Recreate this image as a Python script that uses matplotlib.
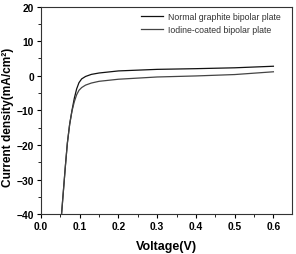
import matplotlib
matplotlib.use("Agg")
import matplotlib.pyplot as plt
from matplotlib.ticker import MultipleLocator

plt.rcParams['font.family'] = ['Liberation Sans', 'DejaVu Sans']

V_normal = [0.053, 0.058, 0.063, 0.068, 0.074, 0.080, 0.086, 0.092, 0.098, 0.105, 0.115, 0.13, 0.15, 0.2, 0.3, 0.4, 0.5, 0.6]
J_normal = [-40, -33, -26, -19.5, -14, -10, -6.5, -3.8, -2.0, -0.9, -0.2, 0.4, 0.8, 1.4, 1.85, 2.05, 2.3, 2.75]
V_iodine = [0.053, 0.058, 0.063, 0.068, 0.074, 0.080, 0.086, 0.092, 0.098, 0.105, 0.115, 0.13, 0.15, 0.2, 0.3, 0.4, 0.5, 0.6]
J_iodine = [-40, -33, -26, -19.5, -14, -10.2, -7.5, -5.5, -4.2, -3.4, -2.7, -2.1, -1.6, -1.0, -0.35, -0.05, 0.35, 1.15]
labels = ["Normal graphite bipolar plate", "Iodine-coated bipolar plate"]

fig = plt.figure(figsize=(2.96, 2.55), dpi=100)
ax = fig.add_axes([41/296, 1-215.3/255, (292-41)/296, (215.3-7.5)/255])
ax.plot(V_normal, J_normal, color='#111111', lw=0.9, label=labels[0])
ax.plot(V_iodine, J_iodine, color='#444444', lw=0.9, label=labels[1])
ax.set_xlim(0, 0.648)
ax.set_ylim(-40, 20)
ax.xaxis.set_major_locator(MultipleLocator(0.1))
ax.xaxis.set_minor_locator(MultipleLocator(0.05))
ax.yaxis.set_major_locator(MultipleLocator(10))
ax.yaxis.set_minor_locator(MultipleLocator(5))
ax.tick_params(which='major', direction='out', length=3, width=0.8, labelsize=7.4, pad=2)
ax.tick_params(which='minor', direction='out', length=2, width=0.6)
ax.xaxis.set_major_formatter(matplotlib.ticker.FormatStrFormatter('%.1f'))
for lab in ax.get_xticklabels() + ax.get_yticklabels():
    lab.set_fontweight('bold')
for s in ax.spines.values():
    s.set_linewidth(0.8)
    s.set_color('#333333')
ax.set_xlabel('Voltage(V)', fontsize=9, fontweight='bold', labelpad=6)
fig.text(8.5/296, 1-117.5/255, 'Current density(mA/cm\u00b2)', rotation=90,
         fontsize=8.6, fontweight='bold', ha='center', va='center')
leg = ax.legend(loc='upper left', bbox_to_anchor=(0.40, 0.975), frameon=False, fontsize=6.3,
                handlelength=2.5, handletextpad=0.5, borderpad=0, borderaxespad=0, labelspacing=0.5)
for t in leg.get_texts():
    t.set_color('#333333')
fig.savefig('out.png', dpi=100)
